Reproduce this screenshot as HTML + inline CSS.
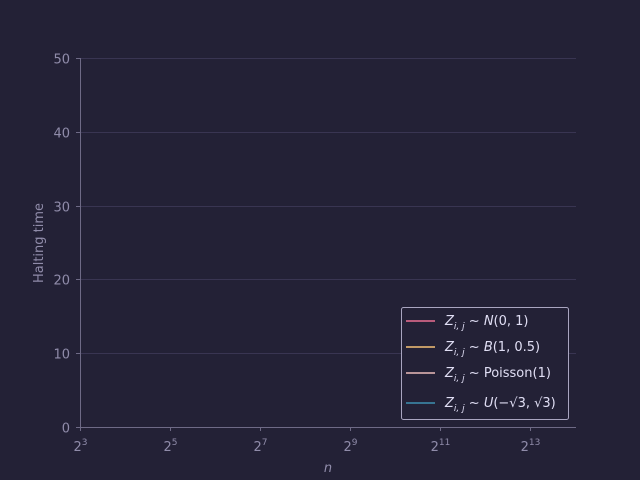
<!DOCTYPE html>
<html><head><meta charset="utf-8"><style>
html,body{margin:0;padding:0;background:#232136;}
svg{display:block;font-family:"DejaVu Sans","Liberation Sans",sans-serif;}
</style></head><body>
<svg id="chart" width="640" height="480" viewBox="0 0 640 480">
<rect width="640" height="480" fill="#232136"/>
<g id="grid"></g>
<g id="series"></g>
<g id="axes"></g>
<text x="43" y="243" fill="#908caa" font-size="13" text-anchor="middle" transform="rotate(-90 43 243)">Halting time</text>
<text x="328" y="472" fill="#908caa" font-size="13" font-style="italic" text-anchor="middle">n</text>
<g id="legend">
<rect x="401.5" y="307.5" width="167" height="112" rx="2" fill="#232136" stroke="#a9a5c0" stroke-width="1"/>
</g>
</svg>
<script>
const xTickExps = [3, 5, 7, 9, 11, 13];
const yTicks = [0, 10, 20, 30, 40, 50];
const seriesNames = ["N(0,1)", "B(1,0.5)", "Poisson(1)", "U(-√3,√3)"];
const seriesColors = ["#eb6f92", "#f6c177", "#ebbcba", "#3e8fb0"];
const nExps = [];
const haltN = [];
const haltB = [];
const haltP = [];
const haltU = [];
const seriesValues = [haltN, haltB, haltP, haltU];

const L=80,R=576,T=58,B=427;
const xMin=3,xMax=14.02,yMin=0,yMax=50;
const xs=e=>L+(e-xMin)/(xMax-xMin)*(R-L);
const ys=v=>B-(v-yMin)/(yMax-yMin)*(B-T);
const NS="http://www.w3.org/2000/svg";
function mk(tag,attrs,parent){const el=document.createElementNS(NS,tag);for(const k in attrs)el.setAttribute(k,attrs[k]);parent.appendChild(el);return el;}
const grid=document.getElementById('grid'),axes=document.getElementById('axes'),ser=document.getElementById('series'),leg=document.getElementById('legend');

yTicks.forEach(v=>{
  const y=Math.round(ys(v))+0.5;
  if(v>0){const g=mk('line',{x1:L,x2:R,y1:y,y2:y,stroke:'#393552','stroke-width':1},grid);
  
  }
  const t=mk('line',{x1:L-4,x2:L,y1:y,y2:y,stroke:'#6e6a86'},axes);
  
  
  const tx=mk('text',{x:L-10,y:y+5,fill:'#908caa','font-size':13,'text-anchor':'end'},axes);
  tx.textContent=v;
  
  
});
xTickExps.forEach(e=>{
  const x=Math.round(xs(e))+0.5;
  const t=mk('line',{x1:x,x2:x,y1:B,y2:B+4,stroke:'#6e6a86'},axes);
  
  
  const tx=mk('text',{x:x,y:B+24,fill:'#908caa','font-size':13,'text-anchor':'middle'},axes);
  tx.innerHTML='2<tspan dy="-6" font-size="9">'+e+'</tspan>';
  
  
});
const ya=mk('line',{x1:L+0.5,x2:L+0.5,y1:T,y2:B,stroke:'#6e6a86'},axes);


const xa=mk('line',{x1:L,x2:R,y1:B+0.5,y2:B+0.5,stroke:'#6e6a86'},axes);



seriesValues.forEach((vals,i)=>{
  if(!vals.length)return;
  const d=vals.map((v,j)=>(j?'L':'M')+xs(nExps[j])+','+ys(v)).join('');
  const p=mk('path',{d:d,fill:'none',stroke:seriesColors[i],'stroke-width':1.5},ser);
  
  
});

const legY=[321,347,373,403];
const labels=[
 '<tspan font-style="italic">Z</tspan><tspan font-style="italic" font-size="9" dy="4">i, j</tspan><tspan dy="-4"> ~ </tspan><tspan font-style="italic">N</tspan>(0, 1)',
 '<tspan font-style="italic">Z</tspan><tspan font-style="italic" font-size="9" dy="4">i, j</tspan><tspan dy="-4"> ~ </tspan><tspan font-style="italic">B</tspan>(1, 0.5)',
 '<tspan font-style="italic">Z</tspan><tspan font-style="italic" font-size="9" dy="4">i, j</tspan><tspan dy="-4"> ~ </tspan>Poisson(1)',
 '<tspan font-style="italic">Z</tspan><tspan font-style="italic" font-size="9" dy="4">i, j</tspan><tspan dy="-4"> ~ </tspan><tspan font-style="italic">U</tspan>(−√3, √3)'
];
seriesNames.forEach((n,i)=>{
  const l=mk('line',{x1:406,x2:435,y1:legY[i],y2:legY[i],stroke:seriesColors[i],'stroke-width':1.5},leg);
  
  
  const t=mk('text',{x:445,y:legY[i]+4,fill:'#e0def4','font-size':13},leg);
  t.innerHTML=labels[i];
  
  
});
</script>
</body></html>
